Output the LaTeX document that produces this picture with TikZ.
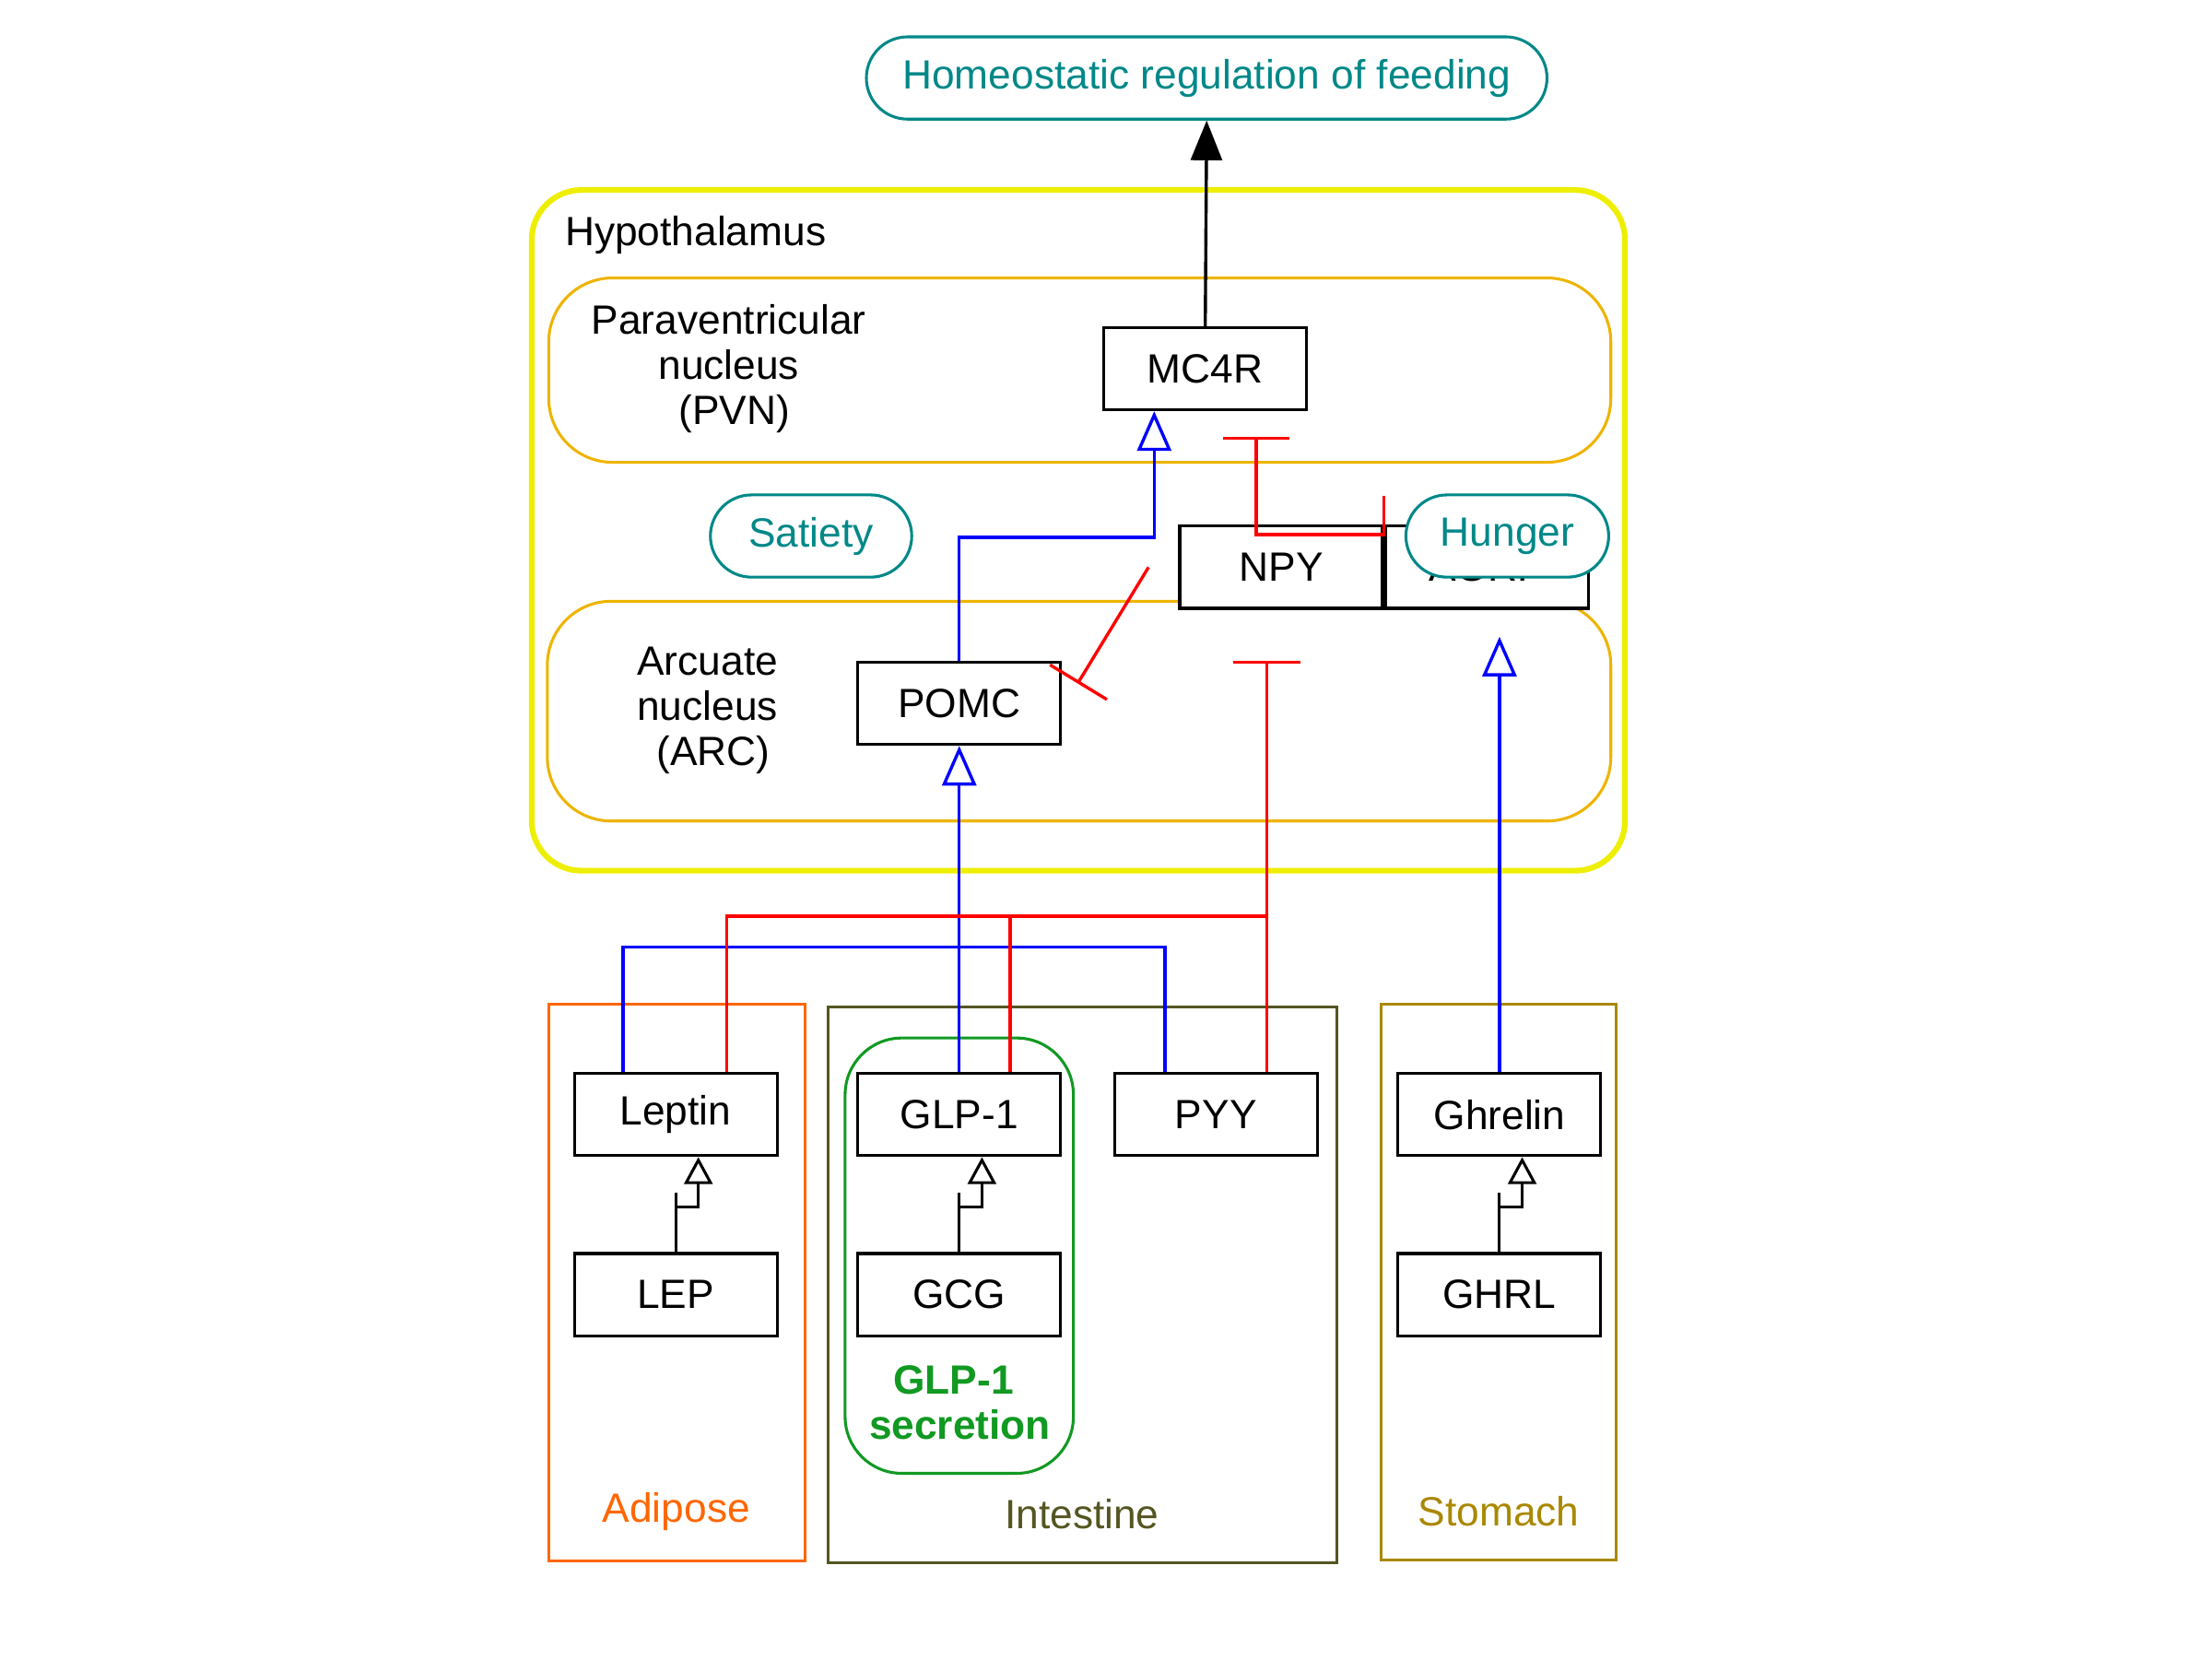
\documentclass[tikz,border=0pt]{standalone}
\usepackage{fontspec}
\setmainfont{Liberation Sans}
\usetikzlibrary{arrows.meta}

\definecolor{phenocol}{RGB}{0,136,136}
\definecolor{hypocol}{RGB}{238,238,0}
\definecolor{nuccol}{RGB}{238,180,0}
\definecolor{adipcol}{RGB}{255,102,0}
\definecolor{intcol}{RGB}{85,85,34}
\definecolor{stomcol}{RGB}{170,136,0}
\definecolor{secrcol}{RGB}{17,153,34}

\begin{document}
\begin{tikzpicture}[x=1pt,y=-1pt,
	font=\fontsize{28.8}{32}\selectfont,
	entity/.style={draw,line width=2pt,fill=white,minimum width=143pt,minimum height=58pt,inner sep=0pt},
	pheno/.style={draw=phenocol,text=phenocol,line width=2pt,fill=white,rounded corners=29pt,minimum height=58pt,inner sep=0pt},
	sig/.style={blue,line width=2.2pt},
	stim/.style={sig,-{Triangle[length=28pt,width=24pt,fill=white]}},
	inhline/.style={red,line width=2.2pt},
	inhib/.style={inhline,-{Bar[width=47pt]}},
	transl/.style={line width=2pt,-{Triangle[length=19pt,width=20pt,fill=white]}}]
	\useasboundingbox (0,0) rectangle (1560,1170);

	%% compartments
	\draw[hypocol,line width=4pt,rounded corners=35pt] (375,134) rectangle (1146,614);
	\draw[nuccol,line width=2pt,rounded corners=45pt] (387,196) rectangle (1136,326);
	\draw[nuccol,line width=2pt,rounded corners=45pt] (386,424) rectangle (1136,579);
	\draw[adipcol,line width=2pt] (387,708) rectangle (568,1101);
	\draw[intcol,line width=2pt] (584,710) rectangle (943,1102);
	\draw[stomcol,line width=2pt] (974,708) rectangle (1140,1100);
	\draw[secrcol,line width=2pt,rounded corners=40pt] (596,732) rectangle (757,1039);

	\node [anchor=west] (hypolabel) at (395,166) {Hypothalamus};
	\node [align=center] (pvnlabel) at (514,260) {Paraventricular\\nucleus\\\hspace*{8pt}(PVN)};
	\node [align=center] (arclabel) at (499,501) {Arcuate\\nucleus\\\hspace*{8pt}(ARC)};
	\node [text=adipcol] (adiplabel) at (477,1066) {Adipose};
	\node [text=intcol] (intlabel) at (763,1068) {Intestine};
	\node [text=stomcol] (stomlabel) at (1057,1066) {Stomach};
	\node [text=secrcol,font=\fontsize{28.8}{32}\selectfont\bfseries,align=center] (secrlabel) at (677,989) {GLP-1\hspace*{9pt}\\secretion};

	%% entities
	\node [pheno,minimum width=480pt] (feeding) at (851,55) {Homeostatic regulation of feeding};
	\node [entity] (mc4r) at (850,260) {MC4R};
	\node [pheno,minimum width=142pt] (satiety) at (572,378) {Satiety};
	\node [entity] (npy) at (903.5,400) {NPY};
	\node [entity,anchor=west] (agrp) at (npy.east) {AGRP};
	\node [pheno,minimum width=143pt] (hunger) at (1063,378) {Hunger};
	\node [entity] (pomc) at (676.5,496) {POMC};

	\node [entity] (leptin) at (476.5,786) {Leptin};
	\node [entity] (lep) at (476.5,913) {LEP};
	\node [entity] (glp1) at (676.5,786) {GLP-1};
	\node [entity] (gcg) at (676.5,913) {GCG};
	\node [entity] (pyy) at (857.5,786) {PYY};
	\node [entity] (ghrelin) at (1057.5,786) {Ghrelin};
	\node [entity] (ghrl) at (1057.5,913) {GHRL};

	%% gene -> protein
	\foreach \gene/\prot in {lep/leptin, gcg/glp1, ghrl/ghrelin} {
		\draw[line width=2pt] (\gene.north) -- ++(0,-42);
		\draw[transl] ([yshift=32pt]\gene.north) -| ([xshift=16pt]\prot.south);
	}

	\draw[line width=2.2pt,-{Triangle[length=28pt,width=22pt]}] (mc4r.north) -- (feeding.south);
	\draw[stim] (pomc.north) -- ++(0,-87) -| ([xshift=-36pt]mc4r.south);
	\draw[inhib] ([yshift=20pt]npy.north east) -- ++(0,27) -| ([xshift=36pt,yshift=-18pt]mc4r.south);
	\draw[inhib] ([xshift=-21pt]npy.west) -- ([xshift=11pt,yshift=14pt]pomc.east);

	%% hormones -> ARC
	\coordinate (sigjoin) at ([yshift=88pt]glp1.north);
	\coordinate (inhjoin) at ([xshift=36pt,yshift=110pt]pyy.north);
	\draw[stim] (glp1.north) -- (pomc.south);
	\draw[sig] ([xshift=-37pt]leptin.north) |- (sigjoin) -| ([xshift=-36pt]pyy.north);
	\draw[inhib] ([xshift=36pt]pyy.north) -- ++(0,-290);
	\draw[inhline] ([xshift=36pt]leptin.north) |- (inhjoin);
	\draw[inhline] ([xshift=36pt]glp1.north) |- (inhjoin);
	\draw[stim] (ghrelin.north) -- ++(0,-307);

\end{tikzpicture}
\end{document}
